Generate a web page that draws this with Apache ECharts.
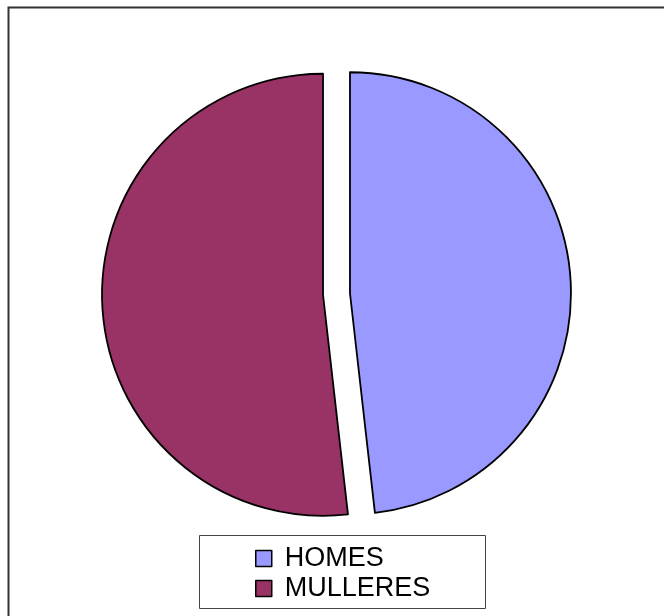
<!DOCTYPE html>
<html>
<head>
<meta charset="utf-8">
<script src="https://cdn.jsdelivr.net/npm/echarts@6/dist/echarts.min.js"></script>
<style>html,body{margin:0;padding:0;background:#fff}#c{width:664px;height:616px}</style>
</head>
<body>
<div id="c"></div>
<script>
const categories = ['HOMES', 'MULLERES'];
const values = [48.2, 51.8];
const colors = ['#9999FF', '#993366'];

const chart = echarts.init(document.getElementById('c'), null, {renderer: 'canvas'});
chart.setOption({
  animation: false,
  backgroundColor: '#fff',
  graphic: [
    {type: 'rect', left: 6, top: 5, shape: {x: 0, y: 0, width: 700, height: 700}, style: {fill: 'none', stroke: '#333', lineWidth: 2}, z: 0},
    {type: 'rect', left: 199, top: 535, shape: {x: 0, y: 0, width: 286, height: 73}, style: {fill: '#fff', stroke: '#444', lineWidth: 1}, z: 1}
  ],
  legend: {
    orient: 'vertical',
    left: 250,
    top: 540,
    itemWidth: 16,
    itemHeight: 16,
    itemGap: 3,
    icon: 'rect',
    itemStyle: {borderColor: '#000', borderWidth: 1.5},
    textStyle: {fontFamily: 'Liberation Sans, Arial, sans-serif', fontSize: 27, lineHeight: 27, color: '#000', padding: [0, 0, 0, 8]},
    data: categories,
    selectedMode: false,
    z: 5
  },
  series: [{
    type: 'pie',
    center: [336.5, 294],
    radius: 221,
    startAngle: 90,
    clockwise: true,
    selectedMode: 'multiple',
    selectedOffset: 13.5,
    avoidLabelOverlap: false,
    label: {show: false},
    labelLine: {show: false},
    emphasis: {disabled: true},
    itemStyle: {borderColor: '#000', borderWidth: 1.8},
    data: categories.map((n, i) => ({name: n, value: values[i], selected: true, itemStyle: {color: colors[i]}}))
  }]
});
</script>
</body>
</html>
